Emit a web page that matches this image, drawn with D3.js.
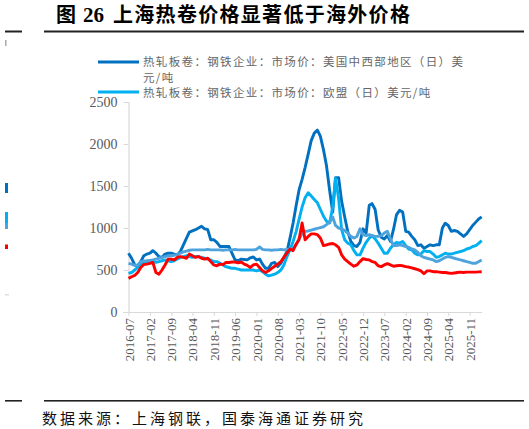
<!DOCTYPE html>
<html><head><meta charset="utf-8">
<script src="https://cdn.jsdelivr.net/npm/d3@7"></script>
<style>
html,body{margin:0;padding:0;background:#fff;}
svg{display:block;}
</style></head>
<body>
<svg id="chart" width="529" height="429"></svg>
<script>
// ---- data (monthly, starting 2016-07) ----
const startMonth = "2016-07";
const usMidwest = [
 700,640,560,545,600,670,690,700,730,700,
 660,650,690,700,700,690,680,720,800,880,
 950,965,980,1000,1020,990,980,860,860,830,
 780,780,780,780,700,620,610,630,625,620,
 645,655,620,630,570,520,520,580,590,540,
 580,650,720,880,1060,1270,1450,1580,1720,1880,
 2040,2130,2165,2090,1930,1740,1450,1190,1600,1600,
 1320,1130,960,840,790,780,830,990,940,1270,
 1290,1220,980,890,870,910,840,980,1160,1210,
 1190,960,950,900,860,790,800,760,780,800,
 790,800,800,1000,1056,1030,960,970,960,930,
 900,930,980,1030,1070,1110,1130];
const eu = [
 460,470,500,530,560,580,590,600,600,590,
 600,610,620,610,600,610,630,650,660,670,
 660,650,660,660,650,640,630,620,600,600,
 580,560,540,530,520,520,510,500,500,500,
 500,500,490,500,480,450,430,440,450,470,
 500,560,660,740,840,960,1100,1250,1360,1420,
 1380,1340,1300,1220,1140,1080,1060,1250,1590,1350,
 980,860,820,800,730,680,680,760,830,880,
 910,870,820,760,700,700,760,800,830,820,
 840,790,750,740,700,680,690,730,720,720,
 690,650,660,680,700,690,690,700,710,720,
 730,750,760,780,790,820,850];
const otherOverseas = [
 580,570,555,560,600,605,610,615,620,630,
 640,650,660,665,670,675,685,700,715,725,
 735,740,740,740,740,740,745,740,740,740,
 740,735,740,740,740,745,740,740,740,740,
 740,740,745,775,745,740,740,735,740,740,
 745,740,745,750,760,800,870,930,960,965,
 975,985,995,1005,1015,1040,1070,1130,1030,1000,
 990,970,940,900,880,900,990,920,910,920,
 910,900,900,910,940,960,870,790,790,800,
 790,780,770,750,740,710,670,650,640,630,
 620,600,610,630,650,660,650,640,630,620,
 610,600,590,580,580,600,620];
const shanghai = [
 400,420,435,470,530,565,570,580,590,470,
 450,500,560,630,630,620,650,660,650,640,
 690,670,650,660,640,630,640,600,560,550,
 570,565,590,590,595,595,585,595,570,555,
 530,560,570,530,490,470,490,520,545,570,
 600,650,700,750,730,810,860,1060,860,900,
 930,930,920,880,790,800,810,815,800,770,
 680,630,600,570,545,560,600,635,625,620,
 600,590,550,540,560,575,560,545,550,555,
 550,540,535,525,515,505,490,455,490,490,
 480,480,475,470,470,465,460,465,470,475,
 470,475,475,475,475,478,480];
const legendLines = ["热轧板卷：钢铁企业：市场价：美国中西部地区（日）美", "元/吨", "热轧板卷：钢铁企业：市场价：欧盟（日）美元/吨"];
const xTickLabels = ["2016-07","2017-02","2017-09","2018-04","2018-11","2019-06","2020-01","2020-08","2021-03","2021-10","2022-05","2022-12","2023-07","2024-02","2024-09","2025-04","2025-11"];
const yTicks = [0,500,1000,1500,2000,2500];
const colors = ["#0070C0","#00B0F0","#4FA3DD","#FF0000"];

// ---- build ----
const parseM = d3.timeParse("%Y-%m");
const t0 = parseM(startMonth);
const dates = usMidwest.map((_, i) => d3.timeMonth.offset(t0, i));
const seriesVals = [usMidwest, eu, otherOverseas, shanghai];

const svg = d3.select("#chart");
const serif = "'Times New Roman','Liberation Serif',serif";
const cjk = "'Noto Sans CJK SC','Noto Sans CJK JP',sans-serif";

const x = d3.scaleTime()
  .domain([parseM("2016-07"), parseM("2026-03")])
  .range([128.5, 481.7]);
const y = d3.scaleLinear().domain([0, 2500]).range([312, 102]);

// title
const title = svg.append("text").attr("y", 22).attr("fill", "#000").attr("font-weight", "bold");
title.append("tspan").attr("x", 56).attr("font-family", cjk).attr("font-size", 20).text("图");
title.append("tspan").attr("x", 83).attr("font-family", serif).attr("font-size", 21).text("26");
title.append("tspan").attr("x", 113).attr("font-family", cjk).attr("font-size", 20).attr("letter-spacing", 1.3).text("上海热卷价格显著低于海外价格");

// rules
svg.append("rect").attr("x", 44).attr("y", 30.5).attr("width", 480).attr("height", 2).attr("fill", "#222");
svg.append("rect").attr("x", 44).attr("y", 400).attr("width", 480).attr("height", 1.6).attr("fill", "#222");
// cropped neighbour fragments at left edge
svg.append("rect").attr("x", 5).attr("y", 30.5).attr("width", 17).attr("height", 2).attr("fill", "#222");
svg.append("rect").attr("x", 5).attr("y", 400).attr("width", 17).attr("height", 1.6).attr("fill", "#222");
svg.append("rect").attr("x", 5).attr("y", 40).attr("width", 1.5).attr("height", 6).attr("fill", "#aaa");
svg.append("rect").attr("x", 5).attr("y", 183).attr("width", 3).attr("height", 10).attr("fill", colors[0]);
svg.append("rect").attr("x", 5).attr("y", 212).attr("width", 3).attr("height", 12).attr("fill", colors[1]);
svg.append("rect").attr("x", 5).attr("y", 223).attr("width", 3).attr("height", 6).attr("fill", colors[2]);
svg.append("rect").attr("x", 5).attr("y", 244.5).attr("width", 3).attr("height", 4.5).attr("fill", colors[3]);
svg.append("rect").attr("x", 5).attr("y", 294).attr("width", 4).attr("height", 1.5).attr("fill", "#ddd");

// legend
const lg = svg.append("g");
lg.append("line").attr("x1", 98).attr("x2", 139).attr("y1", 62).attr("y2", 62)
  .attr("stroke", colors[0]).attr("stroke-width", 3.2);
lg.append("line").attr("x1", 98).attr("x2", 139).attr("y1", 92).attr("y2", 92)
  .attr("stroke", colors[1]).attr("stroke-width", 3.2);
const legY = [66, 81.5, 97];
legendLines.forEach((txt, i) => {
  lg.append("text").attr("x", 143).attr("y", legY[i])
    .attr("font-family", cjk).attr("font-size", 11.5).attr("letter-spacing", 1.35)
    .attr("fill", "#666").text(txt);
});

// axes
const axisColor = "#d9d9d9";
const yAxis = svg.append("g").attr("transform", "translate(128.5,0)")
  .call(d3.axisLeft(y).tickValues(yTicks).tickSize(5).tickPadding(6).tickFormat(d3.format("d")));
yAxis.select(".domain").attr("stroke", axisColor).attr("stroke-width", 1.2);
yAxis.selectAll(".tick line").attr("stroke", axisColor);
yAxis.selectAll(".tick text").attr("font-family", serif).attr("font-size", 14).attr("fill", "#595959");

const xTickDates = xTickLabels.map(s => parseM(s));
const xAxis = svg.append("g").attr("transform", "translate(0,312)")
  .call(d3.axisBottom(x).tickValues(xTickDates).tickSize(4).tickSizeOuter(0).tickFormat(d3.timeFormat("%Y-%m")));
xAxis.select(".domain").attr("stroke", axisColor).attr("stroke-width", 1.2);
xAxis.selectAll(".tick line").attr("stroke", axisColor);
xAxis.selectAll(".tick text")
  .attr("font-family", serif).attr("font-size", 13).attr("fill", "#595959")
  .attr("text-anchor", "end").attr("dy", "0.35em")
  .attr("transform", "translate(0,6) rotate(-90)").attr("x", 0).attr("y", 0);

// lines
const line = d3.line().x((d, i) => x(dates[i])).y(d => y(d));
seriesVals.forEach((vals, k) => {
  svg.append("path").datum(vals)
    .attr("fill", "none").attr("stroke", colors[k]).attr("stroke-width", 2.9)
    .attr("stroke-linejoin", "round").attr("d", line);
});

// source
svg.append("text").attr("x", 42).attr("y", 424).attr("font-family", cjk)
  .attr("font-size", 15).attr("letter-spacing", 3).attr("fill", "#111")
  .text("数据来源：上海钢联，国泰海通证券研究");
</script>
</body></html>
